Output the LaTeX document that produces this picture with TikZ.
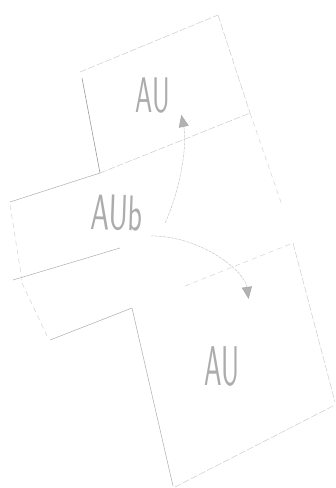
\documentclass[tikz,border=0pt]{standalone}
\usetikzlibrary{arrows.meta,calc}
\begin{document}
\begin{tikzpicture}[x=1pt,y=-1pt,
  faint/.style={draw=gray!40, line width=0.5pt, dash pattern=on 7pt off 2pt},
  faintgap/.style={draw=gray!35, line width=0.5pt, dash pattern=on 5pt off 4pt},
  pen/.style={draw=gray!80, line width=0.6pt},
  medium/.style={draw=gray!60, line width=0.55pt},
  label/.style={text=gray!65, font=\sffamily\fontsize{50}{50}\selectfont, inner sep=0pt},
  conn/.style={draw=gray!45, line width=0.5pt, dash pattern=on 3pt off 1pt,
    -{Triangle[length=12pt,width=10pt,fill=gray!60,color=gray!70]}}
]
\useasboundingbox (0,0) rectangle (336,488);

% top box
\draw[faint] (80,72) -- (218,15);
\draw[pen] (82,78) -- (100,173);
\draw[faint] (218,15) -- (250,113);
\draw[faintgap] (250,113) -- (282,205);
% shared line between top box and middle band
\draw[medium] (10,202) -- (100,173);
\draw[faint] (100,173) -- (250,113);

% middle band
\draw[faintgap] (10,205) -- (22,280);
\draw[faintgap] (22,283) -- (48,338);
\draw[medium] (13,280) -- (120,248);

% lower box
\draw[medium] (50,340) -- (132,308);
\draw[faintgap] (185,286) -- (293,243);
\draw[medium] (132,308) -- (173,486);
\draw[faint] (293,243) -- (335,402);
\draw[faint] (175,487) -- (335,405);

% labels
\node[label] (au1) at (153,96) {\scalebox{0.55}[1]{AU}};
\node[label, rotate=-2] (aub) at (117,213) {\scalebox{0.6}[1]{AUb}};
\node[label, font=\sffamily\fontsize{56}{56}\selectfont] (au2) at (222,367) {\scalebox{0.5}[1]{AU}};

% connectors
\coordinate (s1) at ($(aub.east)+(22,9)$);
\coordinate (t1) at ($(au1.south east)+(11,1)$);
\coordinate (s2) at ($(aub.east)+(8,22)$);
\coordinate (t2) at ($(au2.north east)+(9,-48)$);
\draw[conn] (s1) .. controls +(16,-35) and +(6,28) .. (t1);
\draw[conn] (s2) .. controls +(50,0) and +(-4,-28) .. (t2);
\end{tikzpicture}
\end{document}
